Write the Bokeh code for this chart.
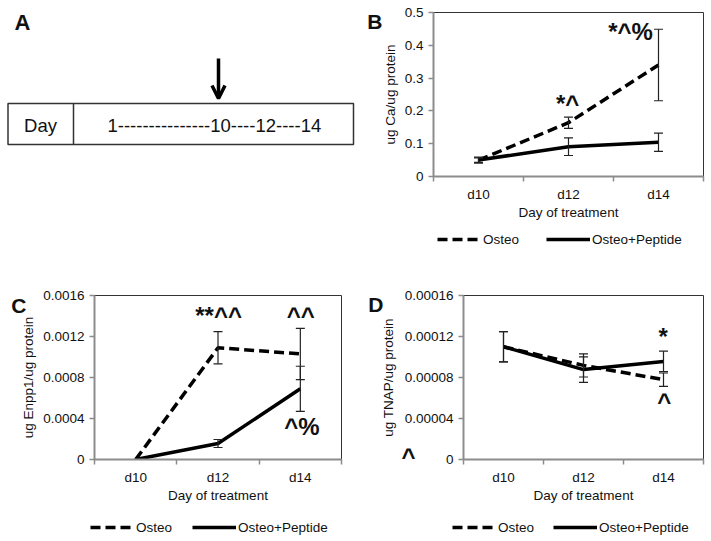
from bokeh.plotting import figure
from bokeh.models import (Range1d, FixedTicker, Whisker, TeeHead, ColumnDataSource,
                          Legend, LegendItem, Label, Arrow, OpenHead, LinearAxis, Spacer)
from bokeh.layouts import row, column
from bokeh.embed import file_html
from bokeh.resources import INLINE

FONT = "Liberation Sans"
TXT = "#111111"
AXC = "#8c8c8c"
DASH = "10 5"

days = ["d10", "d12", "d14"]
series = ["Osteo", "Osteo+Peptide"]
x_title = "Day of treatment"

# Panel A
a_first = "Day"
a_timeline = "1---------------10----12----14"

# Panel B
b_ylabel = "ug Ca/ug protein"
b_osteo = [0.05, 0.164, 0.34]
b_osteo_err = [0.007, 0.017, 0.109]
b_pep = [0.05, 0.091, 0.1045]
b_pep_err = [0.009, 0.027, 0.028]
b_yticks = [0, 0.1, 0.2, 0.3, 0.4, 0.5]
b_ylabels = ["0", "0.1", "0.2", "0.3", "0.4", "0.5"]

# Panel C
c_ylabel = "ug Enpp1/ug protein"
c_osteo = [0.0, 0.00109, 0.00103]
c_osteo_err = [0.0, 0.000157, 0.00025]
c_pep = [0.0, 0.000156, 0.00069]
c_pep_err = [0.0, 0.000039, 0.00022]
c_yticks = [0, 0.0004, 0.0008, 0.0012, 0.0016]
c_ylabels = ["0", "0.0004", "0.0008", "0.0012", "0.0016"]

# Panel D
d_ylabel = "ug TNAP/ug protein"
d_osteo = [0.00011, 0.0000918, 0.0000779]
d_osteo_err = [0.0000148, 0.0000113, 0.0000065]
d_pep = [0.00011, 0.0000877, 0.0000957]
d_pep_err = [0.0000148, 0.0000125, 0.00001]
d_yticks = [0, 0.00004, 0.00008, 0.00012, 0.00016]
d_ylabels = ["0", "0.00004", "0.00008", "0.00012", "0.00016"]


def style_axis_text(ax):
    ax.major_label_text_font = FONT
    ax.major_label_text_font_size = "13.5px"
    ax.major_label_text_color = TXT
    ax.axis_label_text_font = FONT
    ax.axis_label_text_font_size = "13.5px"
    ax.axis_label_text_font_style = "normal"
    ax.axis_label_text_color = TXT


def tag_axis(p, y, txt, size, standoff, title=None, title_standoff=2):
    ax = LinearAxis(ticker=FixedTicker(ticks=[y]), major_label_overrides={y: txt},
                    axis_line_color=None, major_tick_line_color=None,
                    minor_tick_line_color=None, major_tick_out=0, major_tick_in=0,
                    minor_tick_out=0, minor_tick_in=0, major_label_standoff=standoff)
    style_axis_text(ax)
    ax.major_label_text_font_size = size
    ax.major_label_text_font_style = "bold"
    if title is not None:
        ax.axis_label = title
        ax.axis_label_standoff = title_standoff
    p.add_layout(ax, "left")
    return ax


def panel_a(width, height, top, bottom):
    # frame aligned with the neighbouring chart; data units are page pixels
    p = figure(width=width, height=height, x_range=Range1d(0, width),
               y_range=Range1d(height - bottom, top),
               output_backend="svg", toolbar_location=None, x_axis_type=None, y_axis_type=None,
               min_border_left=0, min_border_right=0, min_border_top=top,
               min_border_bottom=bottom)
    p.grid.visible = False
    p.outline_line_color = None
    p.quad(left=[7.5], right=[353], top=[103], bottom=[144], fill_color=None,
           line_color="#333333", line_width=1.5)
    p.segment(x0=[73], y0=[103], x1=[73], y1=[144], line_color="#333333", line_width=1.5)
    p.add_layout(Label(x=40, y=125, text=a_first, text_align="center", text_baseline="middle",
                       text_font=FONT, text_font_size="18.5px", text_color=TXT))
    p.add_layout(Label(x=107, y=125, text=a_timeline, text_align="left", text_baseline="middle",
                       text_font=FONT, text_font_size="18.5px", text_color=TXT))
    p.add_layout(Label(x=22, y=22, text="A", text_align="center", text_baseline="middle",
                       text_font=FONT, text_font_size="22px", text_font_style="bold",
                       text_color=TXT))
    p.add_layout(Arrow(end=OpenHead(size=13, line_width=3.5, line_color="black"),
                       x_start=218, y_start=58, x_end=218, y_end=98,
                       line_width=3.5, line_color="black"))
    return p


def panel(ylabel, yticks, ylabels, osteo, osteo_err, pep, pep_err,
          width, height, borders, notes):
    n = len(days)
    xs = [i + 0.5 for i in range(n)]
    left, right, top, bottom = borders
    p = figure(width=width, height=height, x_range=Range1d(0, n), y_range=Range1d(0, yticks[-1]),
               output_backend="svg", toolbar_location=None,
               min_border_left=left, min_border_right=right, min_border_top=top,
               min_border_bottom=bottom)
    p.grid.visible = False
    p.outline_line_color = "#333333"
    p.outline_line_width = 1

    xa = p.xaxis[0]
    xa.ticker = FixedTicker(ticks=xs, minor_ticks=list(range(n + 1)))
    xa.major_label_overrides = {x: d for x, d in zip(xs, days)}
    xa.major_tick_out = 0
    xa.major_tick_in = 0
    xa.minor_tick_out = 5
    xa.minor_tick_in = 0
    xa.major_label_standoff = 5
    xa.axis_label = x_title
    xa.axis_label_standoff = 0

    ya = p.yaxis[0]
    ya.ticker = FixedTicker(ticks=yticks)
    ya.major_label_overrides = {v: s for v, s in zip(yticks, ylabels)}
    ya.major_tick_out = 5
    ya.major_tick_in = 0
    ya.minor_tick_out = 0
    ya.minor_tick_in = 0
    ya.major_label_standoff = 5
    if ylabel is not None:
        ya.axis_label = ylabel
        ya.axis_label_standoff = 4

    for ax in (xa, ya):
        ax.axis_line_color = AXC
        ax.axis_line_width = 2
        ax.major_tick_line_color = AXC
        ax.minor_tick_line_color = AXC
        ax.major_tick_line_width = 1.5
        ax.minor_tick_line_width = 1.5
        style_axis_text(ax)

    p.line(xs, osteo, line_color="black", line_width=3.5, line_dash=DASH)
    p.line(xs, pep, line_color="black", line_width=3.5)

    for vals, errs in ((osteo, osteo_err), (pep, pep_err)):
        bx = [x for x, e in zip(xs, errs) if e > 0]
        up = [v + e for v, e in zip(vals, errs) if e > 0]
        lo = [v - e for v, e in zip(vals, errs) if e > 0]
        src = ColumnDataSource(dict(base=bx, upper=up, lower=lo))
        p.add_layout(Whisker(base="base", upper="upper", lower="lower", source=src,
                             dimension="height", line_color="#222222", line_width=1.2,
                             upper_head=TeeHead(size=9, line_color="#222222", line_width=1.2),
                             lower_head=TeeHead(size=9, line_color="#222222", line_width=1.2),
                             level="annotation"))

    for txt, x, y in notes:
        p.add_layout(Label(x=x, y=y, text=txt, text_align="center", text_baseline="middle",
                           text_font=FONT, text_font_size="24px", text_font_style="bold",
                           text_color=TXT))
    return p


def legend_fig(width, height, loc, spacing):
    p = figure(width=width, height=height, x_range=Range1d(0, width), y_range=Range1d(0, height),
               output_backend="svg", toolbar_location=None, x_axis_type=None, y_axis_type=None,
               min_border=0)
    p.grid.visible = False
    p.outline_line_color = None
    # legend-only renderers: their points lie outside the visible range
    off = [-20, -10]
    r1 = p.line(off, off, line_color="black", line_width=3.5, line_dash=DASH)
    r2 = p.line(off, off, line_color="black", line_width=3.5)
    legend = Legend(items=[LegendItem(label=series[0], renderers=[r1]),
                           LegendItem(label=series[1], renderers=[r2])],
                    location=loc, orientation="horizontal", spacing=spacing,
                    glyph_width=44, glyph_height=16, label_height=16, label_standoff=2,
                    padding=0, margin=0, border_line_color=None, background_fill_alpha=0,
                    label_text_font=FONT, label_text_font_size="13.5px", label_text_color=TXT)
    p.add_layout(legend)
    return p


pA = panel_a(364, 225, 12, 49)

pB = panel(b_ylabel, b_yticks, b_ylabels, b_osteo, b_osteo_err, b_pep, b_pep_err,
           347, 225, (69, 8, 12, 49),
           [("*^", 1.49, 0.222), ("*^%", 2.19, 0.441)])
tag_axis(pB, 0.473, "B", "21px", -3)

pC = panel(c_ylabel, c_yticks, c_ylabels, c_osteo, c_osteo_err, c_pep, c_pep_err,
           364, 242, (94, 23, 25, 53),
           [("**^^", 1.507, 0.001405), ("^^", 2.506, 0.001405), ("^%", 2.518, 0.000324)])
tag_axis(pC, 0.001503, "C", "21px", -8)

pD = panel(None, d_yticks, d_ylabels, d_osteo, d_osteo_err, d_pep, d_pep_err,
           347, 242, (99, 8, 25, 53),
           [("*", 2.495, 0.00012), ("^", 2.51, 0.0000568)])
tag_axis(pD, 0.0000029, "^", "24px", -14, title=d_ylabel, title_standoff=2)
tag_axis(pD, 0.0001517, "D", "21px", -5)

legB = legend_fig(347, 45, (73, 23), 27)
legC = legend_fig(364, 29, (90, 6), 20)
legD = legend_fig(347, 29, (88, 6), 19)

layout = column(row(pA, pB, spacing=0),
                row(Spacer(width=364, height=45), legB, spacing=0),
                row(pC, pD, spacing=0),
                row(legC, legD, spacing=0),
                spacing=0)

with open("out.html", "w") as f:
    f.write(file_html(layout, INLINE))
